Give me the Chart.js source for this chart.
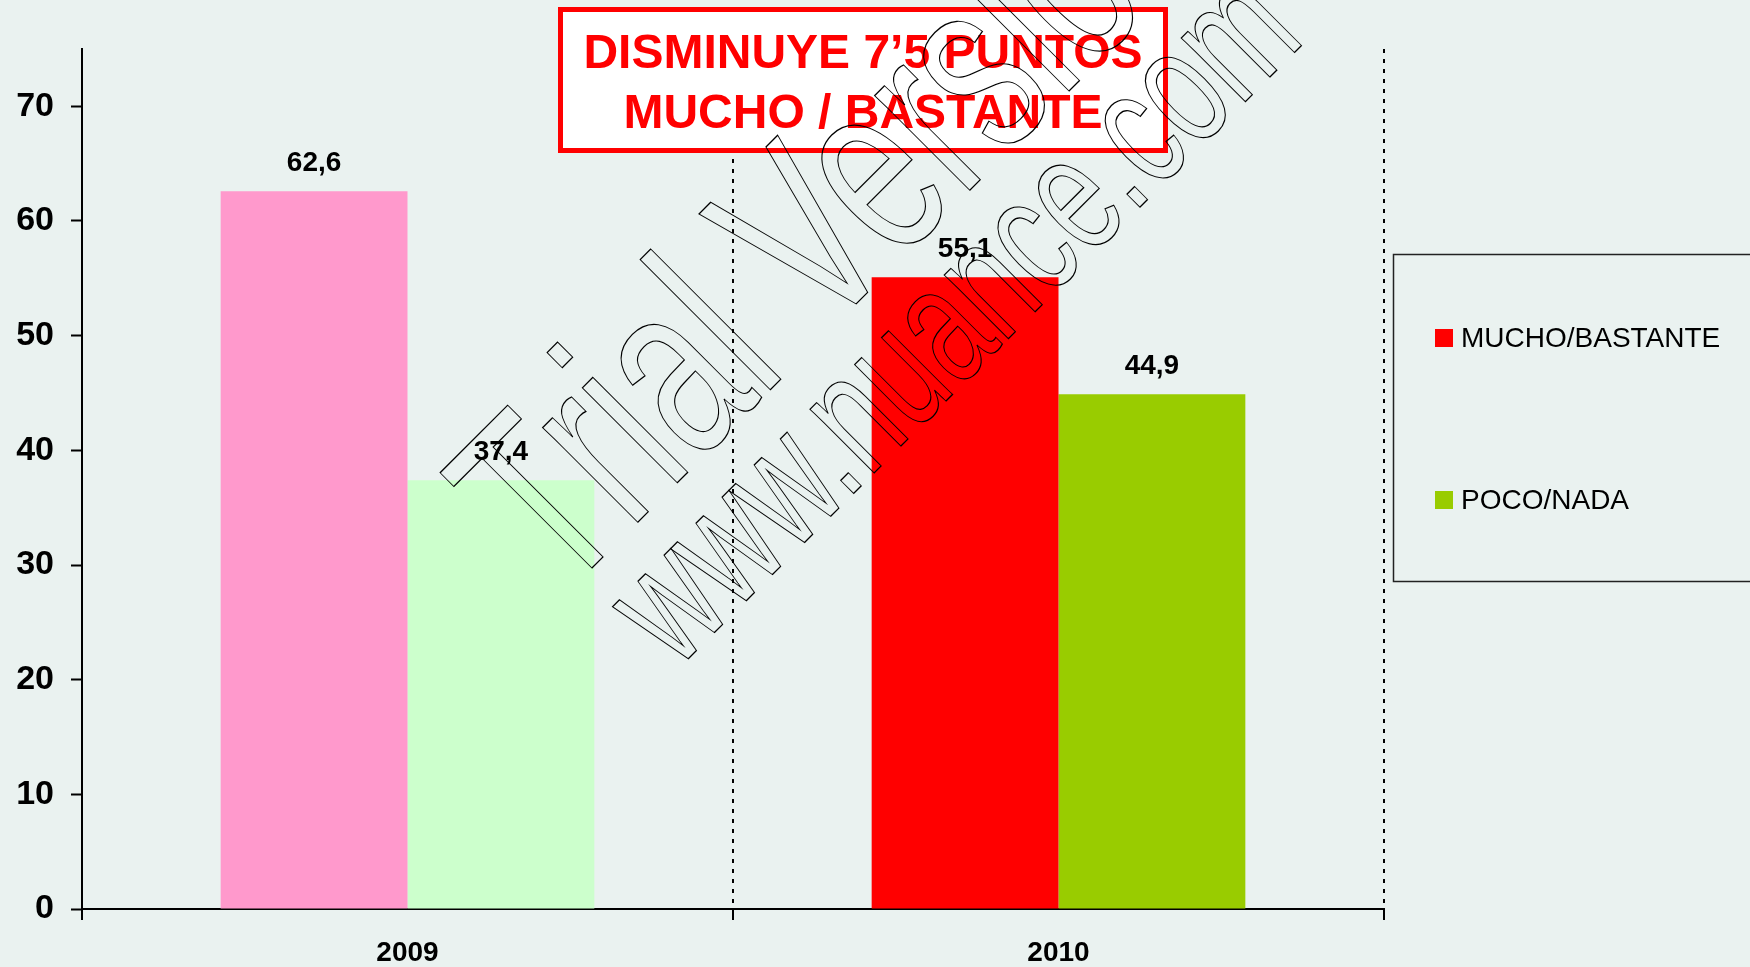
<!DOCTYPE html>
<html>
<head>
<meta charset="utf-8">
<title>Mucho / Bastante 2009-2010</title>
<script src="https://cdn.jsdelivr.net/npm/chart.js@4.4.1/dist/chart.umd.min.js"></script>
<style>
  html, body { margin: 0; padding: 0; background: #eaf2f0; }
  canvas { display: block; }
</style>
</head>
<body>
<canvas id="chart" width="1750" height="967"></canvas>
<script>
const years = ['2009', '2010'];
const seriesNames = ['MUCHO/BASTANTE', 'POCO/NADA'];
const muchoBastante = [62.6, 55.1];
const pocoNada = [37.4, 44.9];
const muchoColors = ['#ff99cc', '#ff0000'];
const pocoColors = ['#ccffcc', '#99cc00'];
const titleLines = ['DISMINUYE 7’5 PUNTOS', 'MUCHO / BASTANTE'];
const watermarkLines = ['Trial Version', 'www.nuance.com'];
const yMax = 75;
const yStep = 10;

const FONT = "'Liberation Sans', Arial, sans-serif";
const fmt = v => v.toFixed(1).replace('.', ',');

// value labels above the bars
const barLabels = {
  id: 'barLabels',
  afterDatasetsDraw(chart) {
    const ctx = chart.ctx;
    ctx.save();
    ctx.font = `bold 28px ${FONT}`;
    ctx.fillStyle = '#000';
    ctx.textAlign = 'center';
    ctx.textBaseline = 'alphabetic';
    chart.data.datasets.forEach((ds, i) => {
      chart.getDatasetMeta(i).data.forEach((bar, j) => {
        ctx.fillText(fmt(ds.data[j]), bar.x, bar.y - 20);
      });
    });
    ctx.restore();
  }
};

// legend box, title box and the watermark of the source picture
const extras = {
  id: 'extras',
  afterDraw(chart) {
    const ctx = chart.ctx;
    ctx.save();

    // legend
    ctx.strokeStyle = '#222';
    ctx.lineWidth = 1.5;
    ctx.strokeRect(1393.5, 254.5, 400, 327);
    ctx.font = `28px ${FONT}`;
    ctx.textAlign = 'left';
    ctx.textBaseline = 'alphabetic';
    chart.data.datasets.forEach((ds, i) => {
      const y = 347 + i * 162;
      ctx.fillStyle = ds.backgroundColor[1];
      ctx.fillRect(1435, y - 18, 18, 18);
      ctx.fillStyle = '#000';
      ctx.fillText(ds.label, 1461, y);
    });

    // title box
    ctx.fillStyle = '#fff';
    ctx.fillRect(560, 9, 606, 142);
    ctx.strokeStyle = '#ff0000';
    ctx.lineWidth = 5;
    ctx.strokeRect(560.5, 9.5, 605, 141);
    ctx.fillStyle = '#ff0000';
    ctx.font = `bold 48px ${FONT}`;
    ctx.textAlign = 'center';
    ctx.fillText(titleLines[0], 863, 68);
    ctx.fillText(titleLines[1], 863, 128);

    // outlined watermark
    ctx.strokeStyle = '#000';
    ctx.lineWidth = 1.3;
    ctx.textAlign = 'left';
    [[561, 599, 254], [676.5, 670.5, 171]].forEach(([x, y, size], i) => {
      ctx.save();
      ctx.translate(x, y);
      ctx.rotate(-Math.PI / 4);
      ctx.scale(0.665, 1);
      ctx.font = `${size}px ${FONT}`;
      ctx.strokeText(watermarkLines[i], 0, 0);
      ctx.restore();
    });

    ctx.restore();
  }
};

new Chart(document.getElementById('chart'), {
  type: 'bar',
  data: {
    labels: years,
    datasets: [
      { label: seriesNames[0], data: muchoBastante, backgroundColor: muchoColors },
      { label: seriesNames[1], data: pocoNada, backgroundColor: pocoColors }
    ]
  },
  options: {
    responsive: false,
    animation: false,
    devicePixelRatio: 1,
    layout: { padding: { left: 0, right: 366, top: 49, bottom: 0 } },
    datasets: { bar: { categoryPercentage: 0.574, barPercentage: 1 } },
    plugins: {
      legend: { display: false },
      title: { display: false },
      tooltip: { enabled: false }
    },
    scales: {
      x: {
        afterFit: s => { s.height = 58; },
        grid: {
          color: c => c.index === 0 ? 'rgba(0,0,0,0)' : '#000',
          lineWidth: 2,
          tickLength: 11,
          tickColor: '#000',
          tickWidth: 2,
          offset: true
        },
        border: { color: '#000', width: 2, dash: [4, 6] },
        ticks: { color: '#000', font: { family: FONT, size: 28, weight: 'bold' }, padding: 16 }
      },
      y: {
        min: 0,
        max: yMax,
        afterFit: s => { s.width = 82; },
        grid: { drawOnChartArea: false, tickLength: 11, tickColor: '#000', tickWidth: 2 },
        border: { color: '#000', width: 2 },
        ticks: {
          stepSize: yStep,
          includeBounds: false,
          color: '#000',
          font: { family: FONT, size: 34, weight: 'bold' },
          padding: 17
        }
      }
    }
  },
  plugins: [barLabels, extras]
});
</script>
</body>
</html>
